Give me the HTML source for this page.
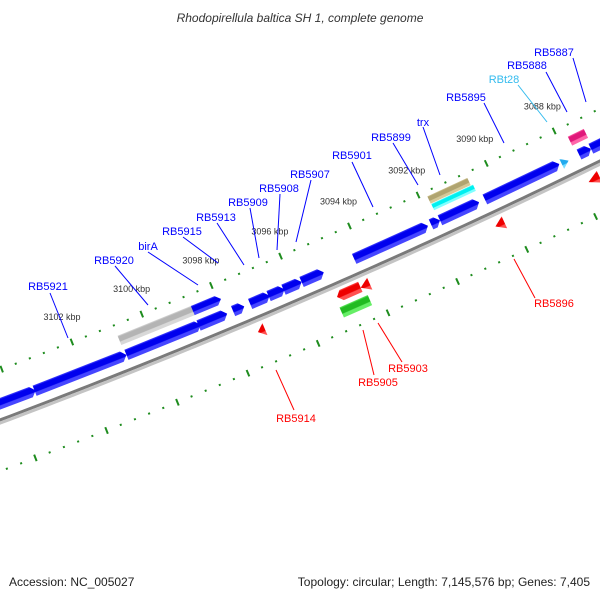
<!DOCTYPE html>
<html><head><meta charset="utf-8"><style>
html,body{margin:0;padding:0;background:#fff}
svg{display:block;font-family:"Liberation Sans","DejaVu Sans",sans-serif}
</style></head><body>
<svg id="map" width="600" height="600" viewBox="0 0 600 600" xmlns="http://www.w3.org/2000/svg">
<defs id="defs"></defs>
<text x="300" y="22" text-anchor="middle" font-size="12" font-style="italic" fill="#333">Rhodopirellula baltica SH 1, complete genome</text>
<g id="rings"></g>
<g id="labels" font-size="11">
 <g fill="#0000ff" stroke="none">
  <text x="48" y="290" text-anchor="middle">RB5921</text>
  <text x="114" y="264" text-anchor="middle">RB5920</text>
  <text x="148" y="250" text-anchor="middle">birA</text>
  <text x="182" y="235" text-anchor="middle">RB5915</text>
  <text x="216" y="221" text-anchor="middle">RB5913</text>
  <text x="248" y="206" text-anchor="middle">RB5909</text>
  <text x="279" y="192" text-anchor="middle">RB5908</text>
  <text x="310" y="178" text-anchor="middle">RB5907</text>
  <text x="352" y="159" text-anchor="middle">RB5901</text>
  <text x="391" y="141" text-anchor="middle">RB5899</text>
  <text x="423" y="126" text-anchor="middle">trx</text>
  <text x="466" y="101" text-anchor="middle">RB5895</text>
  <text x="527" y="69" text-anchor="middle">RB5888</text>
  <text x="554" y="56" text-anchor="middle">RB5887</text>
 </g>
 <text x="504" y="83" text-anchor="middle" fill="#33bbee">RBt28</text>
 <g fill="#ff0000">
  <text x="554" y="307" text-anchor="middle">RB5896</text>
  <text x="408" y="372" text-anchor="middle">RB5903</text>
  <text x="378" y="386" text-anchor="middle">RB5905</text>
  <text x="296" y="422" text-anchor="middle">RB5914</text>
 </g>
 <g stroke="#0000ff" stroke-width="1" fill="none">
  <line x1="50" y1="293" x2="68" y2="338"/>
  <line x1="115" y1="266" x2="148" y2="305"/>
  <line x1="148" y1="252" x2="198" y2="285"/>
  <line x1="183" y1="237" x2="218" y2="263"/>
  <line x1="217" y1="223" x2="244" y2="265"/>
  <line x1="250" y1="208" x2="259" y2="258"/>
  <line x1="280" y1="194" x2="277" y2="250"/>
  <line x1="311" y1="180" x2="296" y2="242"/>
  <line x1="352" y1="162" x2="373" y2="207"/>
  <line x1="393" y1="143" x2="418" y2="185"/>
  <line x1="423" y1="127" x2="440" y2="175"/>
  <line x1="484" y1="103" x2="504" y2="143"/>
  <line x1="546" y1="72" x2="567" y2="112"/>
  <line x1="573" y1="58" x2="586" y2="102"/>
 </g>
 <line x1="518" y1="85" x2="547" y2="122" stroke="#33bbee"/>
 <g stroke="#ff0000" stroke-width="1">
  <line x1="514" y1="259" x2="535" y2="298"/>
  <line x1="378" y1="323" x2="402" y2="362"/>
  <line x1="363" y1="330" x2="374" y2="375"/>
  <line x1="276" y1="370" x2="294" y2="410"/>
 </g>
</g>
<text x="9" y="586" font-size="12" fill="#222">Accession: NC_005027</text>
<text x="590" y="586" font-size="12" fill="#222" text-anchor="end">Topology: circular; Length: 7,145,576 bp; Genes: 7,405</text>
</svg>
<script>
// ---- data (kbp) ----
const geneStart = [3105.4,3103.39,3100.78,3098.72,3097.73,3097.24,3096.71,3096.28,3095.76,3094.24,3092.01,3091.75,3090.44,3088.20,3087.68,3087.33];
const geneEnd   = [3103.36,3100.78,3098.66,3097.90,3097.41,3096.68,3096.25,3095.76,3095.12,3092.10,3091.75,3090.61,3088.26,3088.00,3087.33,3086.2];
const geneKind  = ['cds','cds','cds','cds','cds','cds','cds','cds','cds','cds','cds','cds','cds','trna','cds','cds'];
const ring2Start = [3100.81,3098.71,3091.78,3087.74];
const ring2End   = [3098.68,3097.90,3090.56,3087.27];
const ring2Kind  = ['gray','cds','cyan','magenta'];
const ring3Start = [3091.79];
const ring3End   = [3090.62];
const revStart = [3097.34,3090.49,3087.77,3095.06,3094.39];
const revEnd   = [3097.14,3090.23,3087.45,3094.39,3094.13];
const revKind  = ['tri','tri','tri','cds','tri'];
const rev2Start = [3095.11];
const rev2End   = [3094.30];
const tickLabels = [3088,3090,3092,3094,3096,3098,3100,3102];

// ---- geometry ----
const CX=-2409, CY=-5985, A0=64.15, DEG=0.3171, P0=3088;
const R_BB=6844, R_RULER=6796, R_RULER2=6891;
function pt(p,r){const a=(A0+(p-P0)*DEG)*Math.PI/180;return [CX+r*Math.cos(a),CY+r*Math.sin(a)];}
const NS='http://www.w3.org/2000/svg';
const rings=document.getElementById('rings'), defs=document.getElementById('defs');
function mk(tag,attrs,parent){const e=document.createElementNS(NS,tag);for(const k in attrs)e.setAttribute(k,attrs[k]);(parent||rings).appendChild(e);return e;}

const palette={cds:['#0000ee','#4646ff'],gray:['#b4b4b4','#d8d8d8'],cyan:['#00f0f0','#80ffff'],magenta:['#e0187a','#ff66aa'],tan:['#b0a470','#d4c898'],red:['#ee0000','#ff5050'],green:['#22bb22','#66ee66'],trna:['#22aaee','#77ddff']};
for(const k in palette){
  const g=mk('linearGradient',{id:'g-'+k,x1:'0',y1:'0',x2:'0',y2:'1'},defs);
  const [b,l]=palette[k];
  [[0,l],[0.15,b],[0.6,b],[0.68,l],[1,l]].forEach(s=>mk('stop',{offset:s[0],'stop-color':s[1]},g));
}

// backbone
function arcPath(r){let d='';for(let p=3080;p<=3112;p+=0.25){const q=pt(p,r);d+=(d?'L':'M')+q[0].toFixed(2)+' '+q[1].toFixed(2);}return d;}
const bb1=mk('path',{d:arcPath(R_BB-1),stroke:'#7a7a7a','stroke-width':3,fill:'none'});


const bb2=mk('path',{d:arcPath(R_BB+2),stroke:'#c4c4c4','stroke-width':3,fill:'none'});



// rulers
function ruler(r,name){
  for(let i=Math.round(3080/0.4);i<=Math.round(3112/0.4);i++){
    const p=i*0.4; const major=(i%5===0);
    const a=pt(p,r-(major?3.5:1)), b=pt(p,r+(major?3.5:1));
    const t=mk('line',{x1:a[0],y1:a[1],x2:b[0],y2:b[1],stroke:'#1e8c1e','stroke-width':2});
    
    
  }
}
ruler(R_RULER,'outer-ruler');
ruler(R_RULER2,'inner-ruler');
tickLabels.forEach(k=>{
  const q=pt(k,R_RULER-27);
  const t=mk('text',{x:q[0].toFixed(1),y:(q[1]+3).toFixed(1),'text-anchor':'middle','font-size':9,fill:'#333'});
  t.textContent=k+' kbp';
  
  
});

// features
function feature(pHi,pLo,r,h,col,shape,name){
  const A=pt(pHi,r), B=pt(pLo,r);
  const dx=B[0]-A[0], dy=B[1]-A[1], L=Math.hypot(dx,dy);
  const ang=Math.atan2(dy,dx)*180/Math.PI;
  const g=mk('g',{transform:`translate(${(A[0]+B[0])/2} ${(A[1]+B[1])/2}) rotate(${ang})`});
  
  
  const x0=-L/2,x1=L/2,y0=-h/2,y1=h/2; const a=Math.min(5,L*0.6);
  let pts;
  if(shape==='right') pts=[[x0,y0],[x1-a,y0],[x1,0],[x1-a,y1],[x0,y1]];
  else if(shape==='left') pts=[[x0,0],[x0+a,y0],[x1,y0],[x1,y1],[x0+a,y1]];
  else if(shape==='triL') pts=[[x0,0],[x1,y0-1],[x1,y1+1]];
  else if(shape==='triR') pts=[[x0,y0],[x1,0],[x0,y1]];
  else pts=[[x0,y0],[x1,y0],[x1,y1],[x0,y1]];
  const poly=mk('polygon',{points:pts.map(p=>p[0].toFixed(2)+','+p[1].toFixed(2)).join(' '),fill:`url(#g-${col})`},g);
  
  
}
geneStart.forEach((s,i)=>{
  if(geneKind[i]==='trna') feature(s,geneEnd[i],6829,11,'trna','triR','trna-'+i);
  else feature(s,geneEnd[i],6828,11,'cds','right','forward-gene-'+i);
});
ring2Start.forEach((s,i)=>{
  const k=ring2Kind[i];
  const h=k==='cyan'?7:10;
  feature(s,ring2End[i],k==='cyan'?6813:6812,h,k,k==='cds'?'right':'rect','ring2-feature-'+i);
});
ring3Start.forEach((s,i)=>feature(s,ring3End[i],6805,8,'tan','rect','ring3-feature-'+i));
revStart.forEach((s,i)=>{
  if(revKind[i]==='tri') feature(s,revEnd[i],6857,11,'red','triL','reverse-tri-'+i);
  else feature(s,revEnd[i],6856,11,'red','left','reverse-gene-'+i);
});
rev2Start.forEach((s,i)=>feature(s,rev2End[i],6872,11,'green','rect','reverse-ring2-feature-'+i));
</script>
</body></html>
